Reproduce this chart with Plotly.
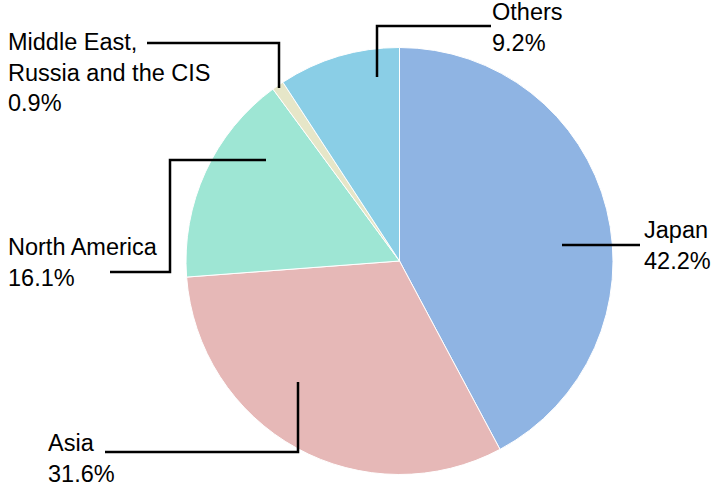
import plotly.graph_objects as go

# ---- data ----
regions = ["Japan", "Asia", "North America", "Middle East,<br>Russia and the CIS", "Others"]
shares = [42.2, 31.6, 16.1, 0.9, 9.2]
colors = ["#8FB4E3", "#E6B8B7", "#9EE6D4", "#E6E6C8", "#8ACEE6"]

W, H = 713, 486

# ---- label placement (style, in pixels) ----
label_pos = [  # (left x, vertical centre y)
    (642, 245),
    (46, 458),
    (6, 262),
    (6, 72),
    (490, 27),
]
leader_paths = [
    [(562, 245), (640, 245)],
    [(298, 382), (298, 452), (105, 452)],
    [(266, 160), (170, 160), (170, 272), (110, 272)],
    [(279, 88), (279, 43), (147, 43)],
    [(377, 77), (377, 26), (491, 26)],
]

def px(x):
    return x / W

def py(y):
    return 1 - y / H

cx, cy, r = 399.5, 261, 213.5

fig = go.Figure(go.Pie(
    labels=[l.replace("<br>", " ") for l in regions],
    values=shares,
    sort=False,
    direction="clockwise",
    rotation=0,
    textinfo="none",
    hoverinfo="label+percent",
    marker=dict(colors=colors, line=dict(color="white", width=1)),
    domain=dict(x=[px(cx - r), px(cx + r)], y=[py(cy + r), py(cy - r)]),
    showlegend=False,
))

font = dict(family="Liberation Sans, Arial, sans-serif", size=23.5, color="black")
for name, val, (lx, ly), path in zip(regions, shares, label_pos, leader_paths):
    fig.add_annotation(
        x=px(lx), y=py(ly), xref="paper", yref="paper",
        xanchor="left", yanchor="middle", align="left",
        text=f"{name}<br>{val:.1f}%", showarrow=False, font=font,
    )
    d = "M " + " L ".join(f"{px(x)},{py(y)}" for x, y in path)
    fig.add_shape(type="path", path=d, xref="paper", yref="paper",
                  line=dict(color="black", width=2.5))

fig.update_layout(
    width=W, height=H,
    margin=dict(l=0, r=0, t=0, b=0),
    paper_bgcolor="white", plot_bgcolor="white",
)
fig.write_html("out.html", config={"displayModeBar": False},
               post_script="document.body.style.margin='0';")
